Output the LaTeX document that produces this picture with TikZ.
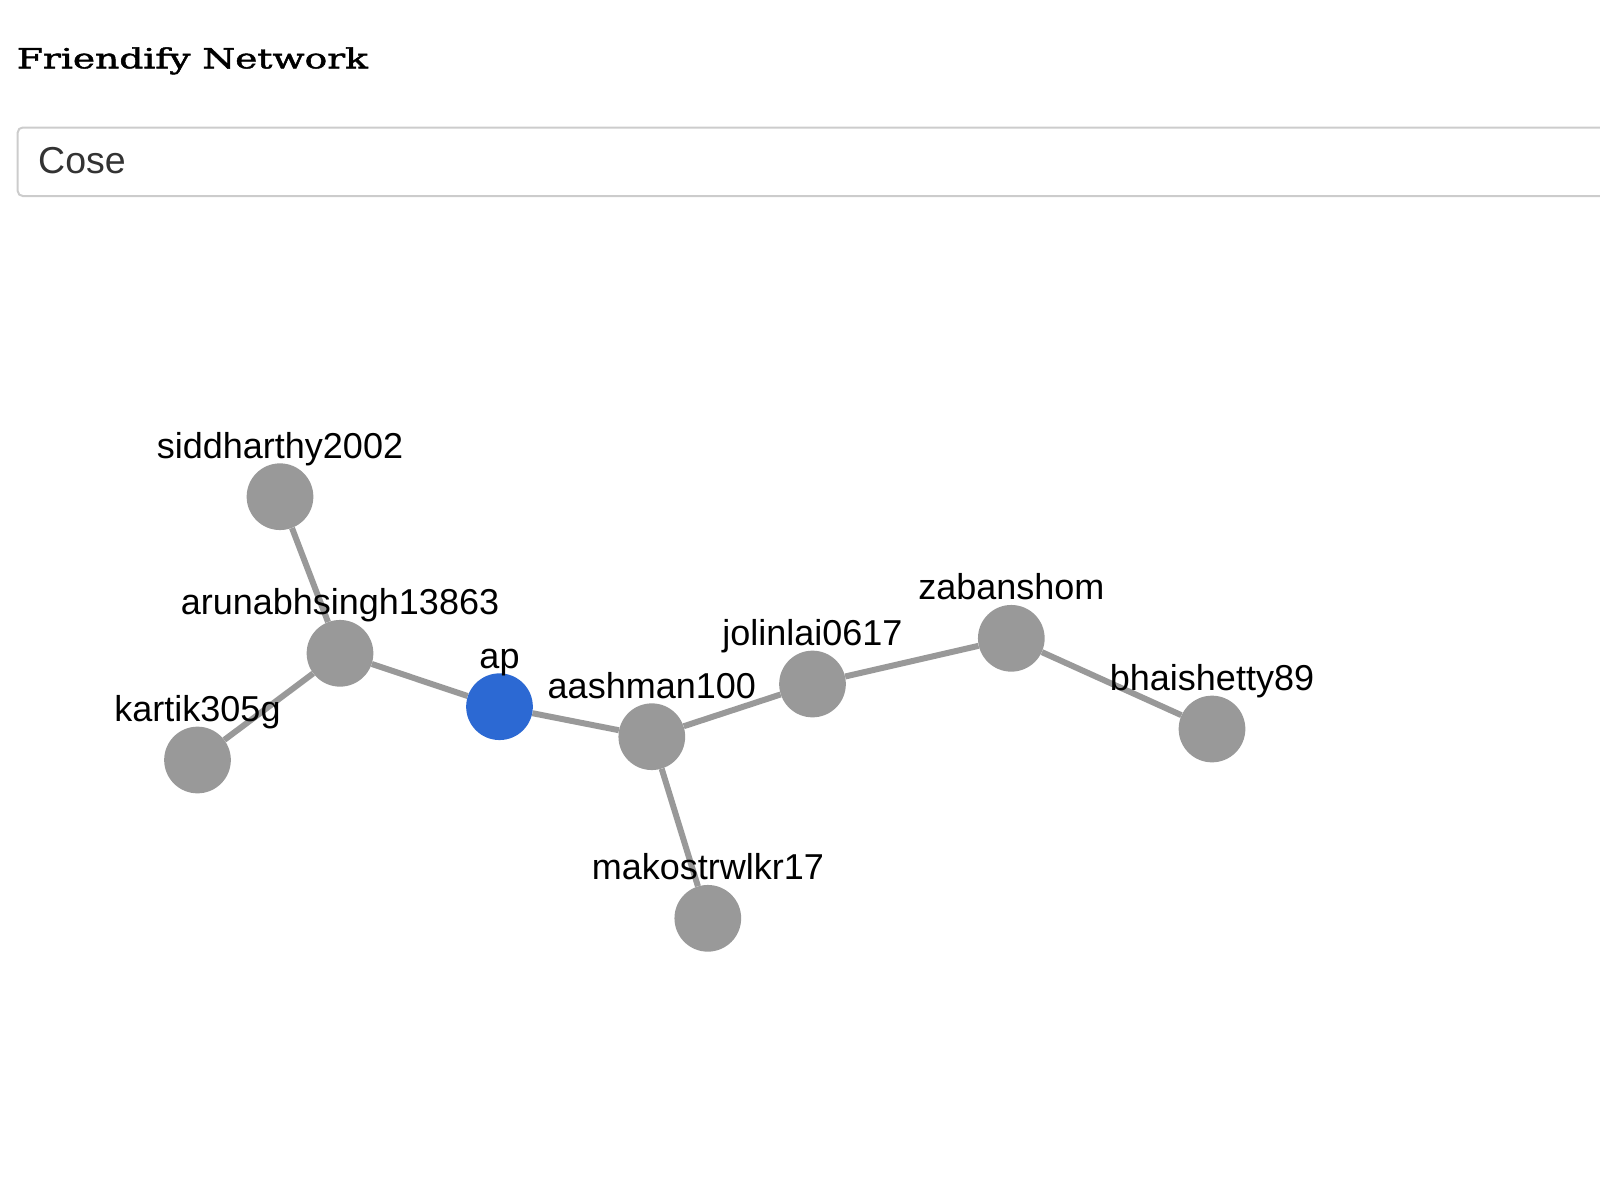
\documentclass[tikz,border=0pt]{standalone}
\usepackage{fontspec}
\newfontfamily\lblfont{Liberation Sans}
\newfontfamily\titlefont[FakeBold=1.5]{DejaVu Serif}
\usetikzlibrary{backgrounds}
\definecolor{nodegray}{HTML}{999999}
\definecolor{edgegray}{HTML}{999999}
\definecolor{apblue}{HTML}{2C69D3}
\definecolor{boxgray}{HTML}{CCCCCC}
\definecolor{seltext}{HTML}{333333}
\tikzset{
  x=1pt, y=1pt,
  lbl/.style={font=\lblfont\fontsize{36}{43}\selectfont, inner sep=0pt, anchor=base, yshift=5pt, text=black},
  person/.style={circle, fill=nodegray, inner sep=0pt, minimum size=66.7pt},
  me/.style={person, fill=apblue},
  link/.style={draw=edgegray, line width=6pt},
}
\begin{document}
\begin{tikzpicture}
\useasboundingbox (0,0) rectangle (1600,-1186);
% header
\node[anchor=base west, inner sep=0pt] (title) at (16.7,-68.3)
  {\resizebox{351pt}{21pt}{\titlefont Friendify Network}};
\draw[boxgray, line width=2pt, rounded corners=5pt]
  (1605,-127.5) -- (17.7,-127.5) -- (17.7,-196) -- (1605,-196);
\node[anchor=base west, inner sep=0pt, text=seltext, font=\lblfont\fontsize{37.5}{44}\selectfont] (layout) at (38,-173.3) {Cose};
% graph nodes
\node[person, label={[lbl]above:siddharthy2002}] (sid) at (280,-496.7) {};
\node[person, label={[lbl]above:arunabhsingh13863}] (aru) at (340,-653.3) {};
\node[person, label={[lbl]above:kartik305g}] (kar) at (197.5,-760) {};
\node[me, label={[lbl]above:ap}] (ap) at (499.5,-706.7) {};
\node[person, label={[lbl]above:aashman100}] (aas) at (651.8,-736.7) {};
\node[person, label={[lbl]above:makostrwlkr17}] (mak) at (707.8,-918.3) {};
\node[person, label={[lbl]above:jolinlai0617}] (jol) at (812.5,-684) {};
\node[person, label={[lbl]above:zabanshom}] (zab) at (1011.3,-638.3) {};
\node[person, label={[lbl]above:bhaishetty89}] (bha) at (1212,-729) {};
% edges
\begin{scope}[on background layer]
\draw[link] (sid) -- (aru);
\draw[link] (aru) -- (kar);
\draw[link] (aru) -- (ap);
\draw[link] (ap) -- (aas);
\draw[link] (aas) -- (mak);
\draw[link] (aas) -- (jol);
\draw[link] (jol) -- (zab);
\draw[link] (zab) -- (bha);
\end{scope}
\end{tikzpicture}
\end{document}
